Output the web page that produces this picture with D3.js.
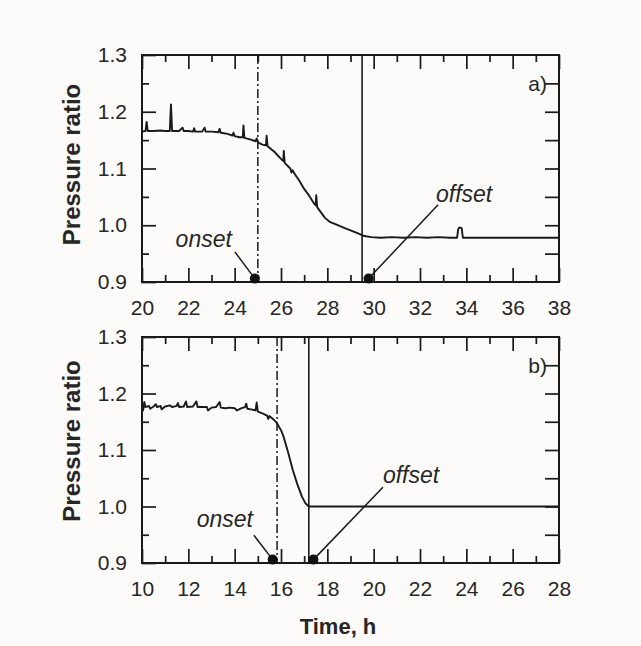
<!DOCTYPE html>
<html><head><meta charset="utf-8">
<script src="https://cdn.jsdelivr.net/npm/d3@7"></script>
<style>
html,body{margin:0;padding:0;background:#fcfbf9;}
svg{display:block;}
text{font-family:"Liberation Sans",Arial,sans-serif;fill:#262626;}
</style></head><body>
<svg id="chart" width="641" height="646"></svg>
<script>
// ---- data ----
const timeA = [20.0,20.15,20.2,20.25,20.5,20.8,21.0,21.2,21.25,21.3,21.6,21.75,21.8,22.0,22.2,22.25,22.3,22.6,22.7,22.75,23.0,23.3,23.35,23.4,23.7,23.9,23.95,24.0,24.2,24.35,24.38,24.42,24.7,24.9,24.95,25.0,25.2,25.35,25.38,25.42,25.7,26.0,26.1,26.12,26.16,26.4,26.45,26.5,26.6,26.8,27.0,27.2,27.4,27.5,27.52,27.56,27.7,27.9,28.1,28.4,28.7,29.0,29.3,29.6,29.9,30.3,30.8,31.3,31.8,32.3,32.8,33.3,33.6,33.65,33.7,33.8,33.85,34.0,38.0];
const ratioA = [1.165,1.166,1.182,1.166,1.166,1.167,1.166,1.166,1.213,1.166,1.166,1.172,1.166,1.166,1.165,1.171,1.165,1.165,1.172,1.165,1.165,1.164,1.170,1.163,1.161,1.158,1.163,1.157,1.155,1.155,1.176,1.154,1.151,1.148,1.153,1.146,1.142,1.141,1.158,1.139,1.130,1.117,1.113,1.131,1.110,1.100,1.093,1.097,1.090,1.078,1.064,1.053,1.040,1.035,1.053,1.032,1.024,1.013,1.006,1.001,0.996,0.991,0.986,0.981,0.979,0.978,0.979,0.978,0.979,0.978,0.979,0.978,0.978,0.993,0.996,0.995,0.978,0.978,0.978];
const timeB = [10.0,10.05,10.1,10.15,10.3,10.35,10.5,10.6,10.65,10.8,10.85,11.0,11.2,11.3,11.5,11.55,11.6,11.8,11.9,11.95,12.2,12.35,12.4,12.6,12.8,12.85,13.0,13.2,13.35,13.4,13.6,13.8,14.0,14.1,14.3,14.45,14.5,14.55,14.7,14.9,14.95,15.0,15.2,15.4,15.45,15.5,15.65,15.8,16.0,16.1,16.3,16.5,16.7,16.9,17.05,17.2,28.0];
const ratioB = [1.177,1.170,1.185,1.176,1.178,1.173,1.177,1.181,1.176,1.178,1.172,1.177,1.179,1.176,1.178,1.183,1.176,1.177,1.186,1.176,1.177,1.186,1.176,1.176,1.176,1.170,1.175,1.176,1.185,1.175,1.174,1.175,1.174,1.170,1.174,1.176,1.182,1.173,1.172,1.170,1.184,1.168,1.165,1.161,1.155,1.160,1.155,1.149,1.135,1.125,1.097,1.066,1.040,1.018,1.006,1.000,1.000];
const xDomainA = [20, 38];
const xDomainB = [10, 28];
const yDomain = [0.9, 1.3];
const yTickLabels = [0.9, 1.0, 1.1, 1.2, 1.3];
const panelLabels = ["a)", "b)"];
// vertical reference lines [onset (dash-dot), offset (solid)]
const refLinesA = [25.0, 29.5];
const refLinesB = [15.83, 17.2];
// marker dots [onset, offset] (time, ratio)
const dotsA = [[24.87, 0.906], [29.78, 0.906]];
const dotsB = [[15.64, 0.906], [17.40, 0.906]];
// leader-line starts (time, ratio) and text anchors
const leadersA = [[24.01, 0.953], [32.78, 1.036]];
const leadersB = [[14.83, 0.949], [20.40, 1.034]];
const annotText = ["onset", "offset"];
const labelPosA = [[23.88, 0.962], [32.69, 1.041]];
const labelPosB = [[14.79, 0.963], [20.40, 1.041]];

// ---- drawing ----
const svg = d3.select("#chart");
const L = 142, R = 559;
const panels = [
  {top:55, bottom:282, xd:xDomainA, t:timeA, v:ratioA, ref:refLinesA, dots:dotsA, lead:leadersA, lab:labelPosA, name:panelLabels[0], titleY:164.5},
  {top:337, bottom:563, xd:xDomainB, t:timeB, v:ratioB, ref:refLinesB, dots:dotsB, lead:leadersB, lab:labelPosB, name:panelLabels[1], titleY:441}
];
const ink = "#1a1a1a";

panels.forEach(p => {
  const x = d3.scaleLinear().domain(p.xd).range([L, R]);
  const y = d3.scaleLinear().domain(yDomain).range([p.bottom, p.top]);
  const g = svg.append("g");
  const majorX = d3.range(p.xd[0], p.xd[1] + 0.001, 2);
  const minorX = d3.range(p.xd[0] + 1, p.xd[1], 2);
  const minorY = [0.95, 1.05, 1.15, 1.25];
  const allY = [0.95,1.0,1.05,1.1,1.15,1.2,1.25];

  function style(sel){
    sel.select(".domain").remove();
    sel.selectAll("line").attr("stroke", ink).attr("stroke-width", 1.7);
    sel.selectAll("text").attr("font-size", 21).attr("fill", "#2a2a2a").attr("font-family", "Liberation Sans, Arial, sans-serif");
  }
  g.append("g").attr("transform", `translate(0,${p.bottom})`)
    .call(d3.axisBottom(x).tickValues(majorX).tickSize(-14).tickPadding(18).tickFormat(d3.format("d"))).call(style);
  g.append("g").attr("transform", `translate(0,${p.bottom})`)
    .call(d3.axisBottom(x).tickValues(minorX).tickSize(-7).tickFormat("")).call(style);
  g.append("g").attr("transform", `translate(0,${p.top})`)
    .call(d3.axisTop(x).tickValues(majorX).tickSize(-14).tickFormat("")).call(style);
  g.append("g").attr("transform", `translate(0,${p.top})`)
    .call(d3.axisTop(x).tickValues(minorX).tickSize(-7).tickFormat("")).call(style);
  g.append("g").attr("transform", `translate(${L},0)`)
    .call(d3.axisLeft(y).tickValues(yTickLabels).tickSize(-14).tickPadding(15).tickFormat(d3.format(".1f"))).call(style);
  g.append("g").attr("transform", `translate(${L},0)`)
    .call(d3.axisLeft(y).tickValues(minorY).tickSize(-7).tickFormat("")).call(style);
  g.append("g").attr("transform", `translate(${R},0)`)
    .call(d3.axisRight(y).tickValues(allY).tickSize(-14).tickFormat("")).call(style);

  g.append("rect").attr("x", L).attr("y", p.top).attr("width", R - L).attr("height", p.bottom - p.top)
    .attr("fill", "none").attr("stroke", ink).attr("stroke-width", 2);

  g.append("line").attr("x1", x(p.ref[0])).attr("x2", x(p.ref[0])).attr("y1", p.top).attr("y2", p.bottom)
    .attr("stroke", ink).attr("stroke-width", 1.5).attr("stroke-dasharray", "9,3,2,3");
  g.append("line").attr("x1", x(p.ref[1])).attr("x2", x(p.ref[1])).attr("y1", p.top).attr("y2", p.bottom)
    .attr("stroke", ink).attr("stroke-width", 1.6);

  const pts = p.t.map((t, i) => [t, p.v[i]]);
  g.append("path").datum(pts)
    .attr("d", d3.line().x(d => x(d[0])).y(d => y(d[1])))
    .attr("fill", "none").attr("stroke", ink).attr("stroke-width", 1.9).attr("stroke-linejoin", "round");

  p.dots.forEach((d, i) => {
    g.append("line").attr("x1", x(p.lead[i][0])).attr("y1", y(p.lead[i][1]))
      .attr("x2", x(d[0])).attr("y2", y(d[1])).attr("stroke", ink).attr("stroke-width", 1.5);
    g.append("circle").attr("cx", x(d[0])).attr("cy", y(d[1])).attr("r", 5).attr("fill", "#111");
    g.append("text").attr("x", x(p.lab[i][0])).attr("y", y(p.lab[i][1]))
      .attr("text-anchor", i === 0 ? "end" : "start")
      .attr("font-style", "italic").attr("font-size", 23).attr("fill", "#2a2a2a")
      .text(annotText[i]);
  });

  g.append("text").attr("x", R - 12).attr("y", y(1.25)).attr("dy", "0.36em")
    .attr("text-anchor", "end").attr("font-size", 21).attr("fill", "#2a2a2a").text(p.name);

  g.append("text").attr("transform", `translate(80,${p.titleY}) rotate(-90)`)
    .attr("text-anchor", "middle").attr("font-weight", "bold").attr("font-size", 24).attr("fill", "#1a1a1a")
    .text("Pressure ratio");
});

svg.append("text").attr("x", 338).attr("y", 634).attr("text-anchor", "middle")
  .attr("font-weight", "bold").attr("font-size", 22).attr("fill", "#1a1a1a").text("Time, h");
</script>
</body></html>
